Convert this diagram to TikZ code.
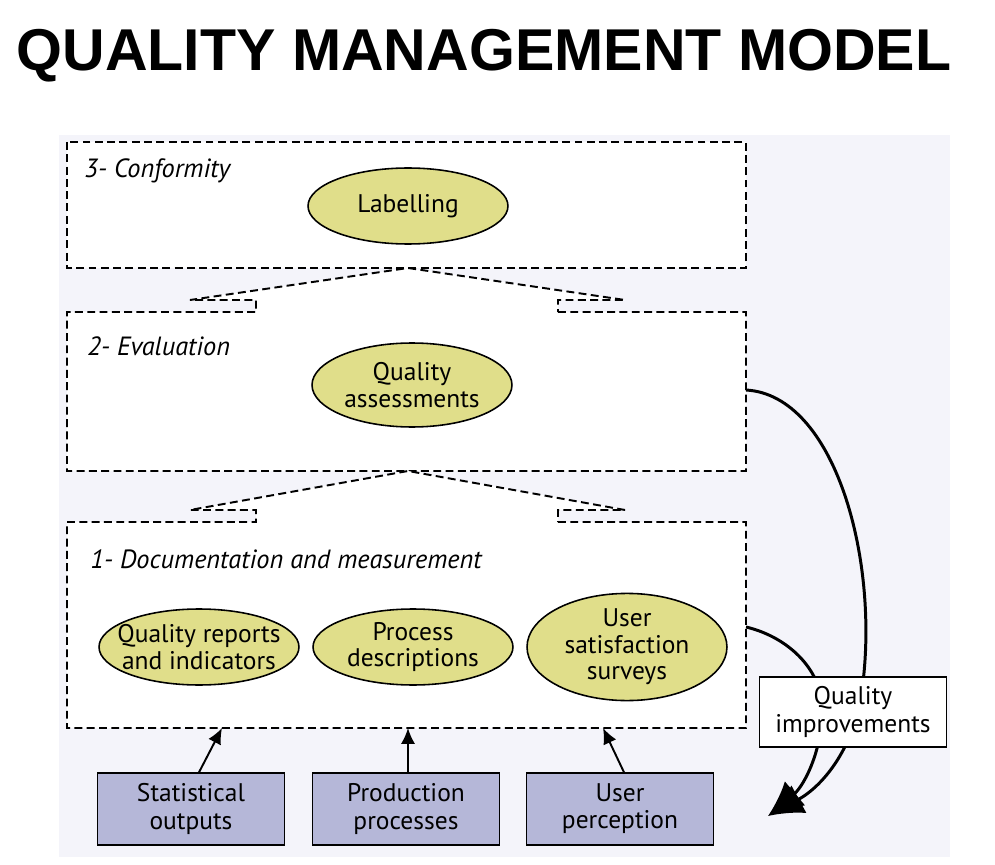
\documentclass[tikz,border=0pt]{standalone}
\usepackage{fontspec}
\setmainfont{PT Sans}
\newfontfamily\titlefont{Liberation Sans}
\usetikzlibrary{arrows.meta,calc,shapes.geometric}
\definecolor{backlav}{RGB}{244,244,250}
\definecolor{ovalyellow}{RGB}{224,222,138}
\definecolor{inputblue}{RGB}{181,183,216}
\tikzset{
	layerline/.style={line width=1.1pt, dash pattern=on 4.5pt off 2.5pt},
	layerlabel/.style={anchor=west, inner sep=0pt, font=\itshape\fontsize{15}{16}\selectfont},
	oval/.style={ellipse, draw, line width=0.9pt, fill=ovalyellow, minimum width=4cm, minimum height=1.52cm, inner sep=0pt, align=center, font=\fontsize{14.5}{15}\selectfont},
	inputbox/.style={rectangle, draw, line width=0.8pt, fill=inputblue, minimum width=3.74cm, minimum height=1.44cm, align=center, font=\fontsize{14.5}{15.5}\selectfont},
	inarrow/.style={line width=1.1pt, -{Latex[length=9pt,width=8pt]}},
	feedarrow/.style={line width=1.7pt, -{Latex[length=20pt,width=18pt]}}
}

\begin{document}
\begin{tikzpicture}[x=0.02cm, y=-0.02cm]
			%%%%% START %%%%%
			\useasboundingbox (0, 0) rectangle (995, 865);
			
			\node[font=\titlefont\bfseries\fontsize{33.6}{40}\selectfont] (title) at (484, 56) {QUALITY MANAGEMENT MODEL};
			
			\fill[backlav] (59, 135) rectangle (950, 857);
			
			% layer 3
			\draw[layerline, fill=white] (67, 142) rectangle (746, 268);
			% layer 2 with its tab up to layer 3
			\draw[layerline, fill=white] (558, 312) -- (746, 312) -- (746, 471) -- (67, 471) -- (67, 312) -- (256, 312) -- (256, 300) -- (190, 300) -- (408, 268) -- (625, 300) -- (558, 300) -- cycle;
			% layer 1 with its tab up to layer 2
			\draw[layerline, fill=white] (558, 522) -- (746, 522) -- (746, 728) -- (67, 728) -- (67, 522) -- (256, 522) -- (256, 510) -- (190, 510) -- (408, 471) -- (625, 510) -- (558, 510) -- cycle;
			
			\node[layerlabel] (conflabel) at (84, 171) {3- Conformity};
			\node[layerlabel] (evallabel) at (87, 346) {2- Evaluation};
			\node[layerlabel] (doclabel) at (90, 559) {1- Documentation and measurement};
			
			\node[oval] (labelling) at (408, 206) {Labelling};
			\node[oval, minimum height=1.68cm] (assess) at (412, 385) {Quality\\assessments};
			\node[oval, inner xsep=-7pt] (reports) at (199, 647) {Quality reports\\and indicators};
			\node[oval, inner xsep=-3pt] (descr) at (413, 647) {Process\\descriptions};
			\node[oval, minimum height=1.9cm] (surveys) at (627, 647) {User\\satisfaction\\surveys};
			
			\node[inputbox] (stat) at (191, 809) {Statistical\\outputs};
			\node[inputbox] (prod) at (406, 809) {Production\\processes};
			\node[inputbox] (perc) at (620, 809) {User\\perception};
			
			\coordinate (statin) at (222, 728);
			\coordinate (prodin) at (408, 728);
			\coordinate (percin) at (603, 728);
			\draw[inarrow] ($(stat.north)+(8, 0)$) -- (statin);
			\draw[inarrow] ($(prod.north)+(2, 0)$) -- (prodin);
			\draw[inarrow] ($(perc.north)+(4, 0)$) -- (percin);
			
			% feedback loops
			\coordinate (evalout) at (746, 390);
			\coordinate (docout) at (746, 627);
			\coordinate (tip) at (768, 816);
			\draw[feedarrow] (evalout) .. controls (835, 395) and (880, 560) .. (862, 690) .. controls (855, 745) and (825, 785) .. (tip);
			\draw[feedarrow] (docout) .. controls (780, 635) and (815, 660) .. (822, 700) .. controls (825, 745) and (805, 785) .. (tip);
			
			\node[draw, line width=0.8pt, fill=white, minimum width=3.74cm, minimum height=1.4cm, align=center, font=\fontsize{14.5}{15.5}\selectfont] (improve) at (853, 712) {Quality\\improvements};
			
			%%%%% END %%%%%
\end{tikzpicture}
\end{document}
